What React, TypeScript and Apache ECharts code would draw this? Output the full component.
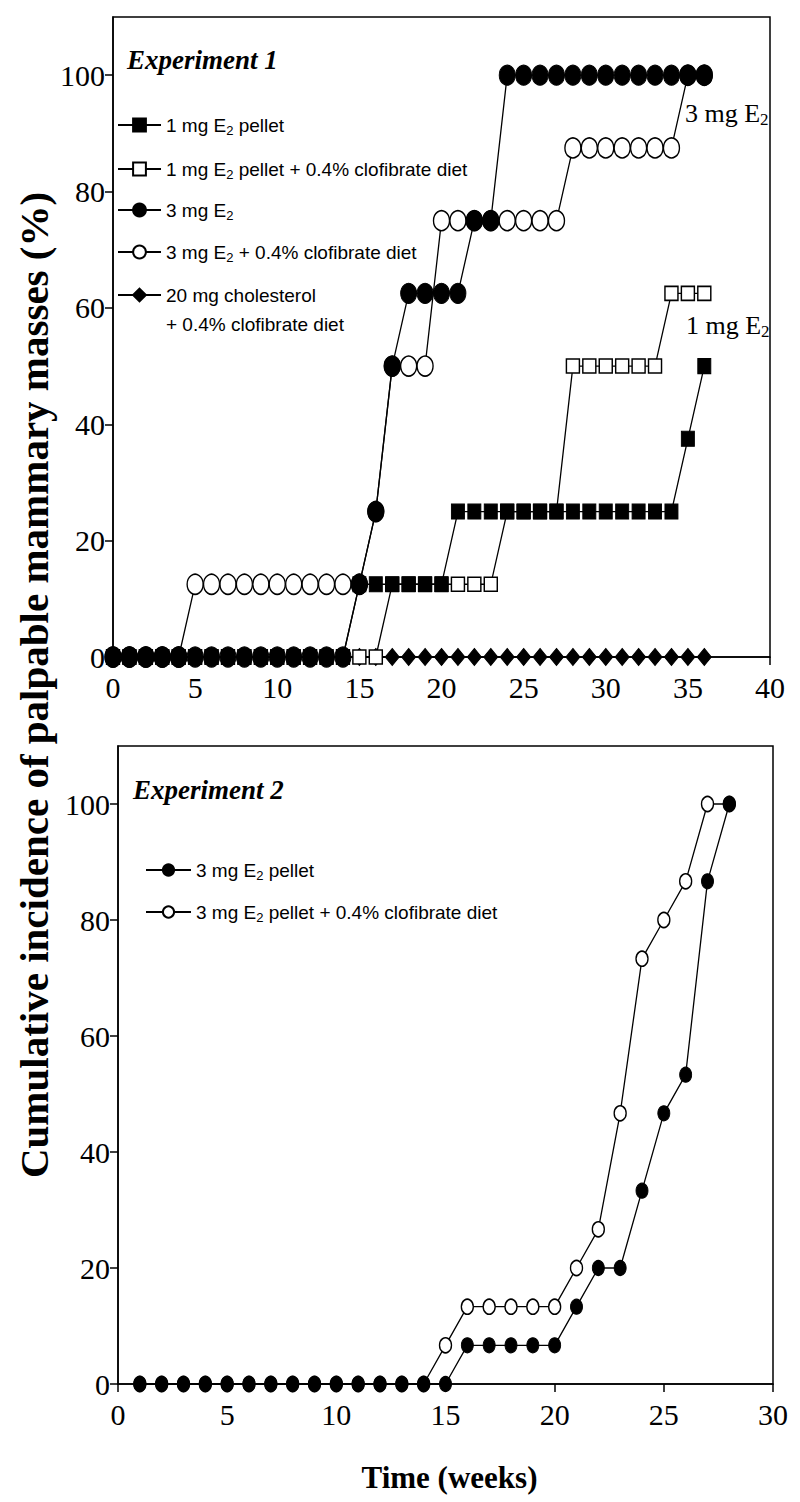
import React, { useEffect, useRef } from 'react';
import * as echarts from 'echarts';

// ---------- Experiment 1 data (weeks 0..36, % incidence) ----------
const exp1Weeks = [0, 1, 2, 3, 4, 5, 6, 7, 8, 9, 10, 11, 12, 13, 14, 15, 16, 17, 18, 19, 20, 21, 22, 23, 24, 25, 26, 27, 28, 29, 30, 31, 32, 33, 34, 35, 36];
const exp1OneMg = [0, 0, 0, 0, 0, 0, 0, 0, 0, 0, 0, 0, 0, 0, 0, 12.5, 12.5, 12.5, 12.5, 12.5, 12.5, 25, 25, 25, 25, 25, 25, 25, 25, 25, 25, 25, 25, 25, 25, 37.5, 50];
const exp1OneMgClof = [0, 0, 0, 0, 0, 0, 0, 0, 0, 0, 0, 0, 0, 0, 0, 0, 0, 12.5, 12.5, 12.5, 12.5, 12.5, 12.5, 12.5, 25, 25, 25, 25, 50, 50, 50, 50, 50, 50, 62.5, 62.5, 62.5];
const exp1ThreeMg = [0, 0, 0, 0, 0, 0, 0, 0, 0, 0, 0, 0, 0, 0, 0, 12.5, 25, 50, 62.5, 62.5, 62.5, 62.5, 75, 75, 100, 100, 100, 100, 100, 100, 100, 100, 100, 100, 100, 100, 100];
const exp1ThreeMgClof = [0, 0, 0, 0, 0, 12.5, 12.5, 12.5, 12.5, 12.5, 12.5, 12.5, 12.5, 12.5, 12.5, 12.5, 25, 50, 50, 50, 75, 75, 75, 75, 75, 75, 75, 75, 87.5, 87.5, 87.5, 87.5, 87.5, 87.5, 87.5, 100, 100];
const exp1Cholesterol = [0, 0, 0, 0, 0, 0, 0, 0, 0, 0, 0, 0, 0, 0, 0, 0, 0, 0, 0, 0, 0, 0, 0, 0, 0, 0, 0, 0, 0, 0, 0, 0, 0, 0, 0, 0, 0];

// ---------- Experiment 2 data (weeks 1..28) ----------
const exp2Weeks = [1, 2, 3, 4, 5, 6, 7, 8, 9, 10, 11, 12, 13, 14, 15, 16, 17, 18, 19, 20, 21, 22, 23, 24, 25, 26, 27, 28];
const exp2ThreeMg = [0, 0, 0, 0, 0, 0, 0, 0, 0, 0, 0, 0, 0, 0, 0, 6.67, 6.67, 6.67, 6.67, 6.67, 13.33, 20, 20, 33.33, 46.67, 53.33, 86.67, 100];
const exp2ThreeMgClof = [0, 0, 0, 0, 0, 0, 0, 0, 0, 0, 0, 0, 0, 0, 6.67, 13.33, 13.33, 13.33, 13.33, 13.33, 20, 26.67, 46.67, 73.33, 80, 86.67, 100, 100];

const yTicks = [0, 20, 40, 60, 80, 100];

const exp1Names = [
  '1 mg E2 pellet',
  '1 mg E2 pellet + 0.4% clofibrate diet',
  '3 mg E2',
  '3 mg E2 + 0.4% clofibrate diet',
  '20 mg cholesterol + 0.4% clofibrate diet',
];
const exp2Names = ['3 mg E2 pellet', '3 mg E2 pellet + 0.4% clofibrate diet'];
const titles = ['Experiment 1', 'Experiment 2'];
const annotations = ['3 mg E2', '1 mg E2'];
const yTitle = 'Cumulative incidence of palpable mammary masses (%)';
const xTitle = 'Time (weeks)';

const SERIF = '"Liberation Serif", "Times New Roman", serif';
const SANS = '"Liberation Sans", Arial, sans-serif';

const richName = (n: string) => '{n|' + n.replace('E2', 'E}{s|2}{n|') + '}';

const pairs = (xs: number[], ys: number[]) => xs.map((x, i) => [x, ys[i]]);

const FILLED = { color: '#000', borderColor: '#000', borderWidth: 1 };
const OPEN = { color: '#fff', borderColor: '#000', borderWidth: 1.5 };

function lineSeries(name: string, xs: number[], ys: number[], idx: number, symbol: string, size: number[], style: any, z: number) {
  return {
    type: 'line',
    name,
    xAxisIndex: idx,
    yAxisIndex: idx,
    data: pairs(xs, ys),
    symbol,
    symbolSize: size,
    showSymbol: true,
    showAllSymbol: true,
    itemStyle: style,
    lineStyle: { color: '#000', width: 1.3 },
    z,
    clip: false,
    silent: true,
    emphasis: { disabled: true },
  };
}

const richStyle = {
  n: { fontFamily: SANS, fontSize: 19, color: '#000' },
  s: { fontFamily: SANS, fontSize: 13, color: '#000', padding: [10, 0, 0, 0] },
};

function legendFor(name: string, left: number, centerY: number, itemWidth: number, itemHeight: number) {
  return {
    orient: 'vertical',
    selectedMode: false,
    padding: 0,
    itemGap: 0,
    itemWidth,
    itemHeight,
    left,
    top: centerY - 12.5,
    data: [name],
    formatter: (n: string) => richName(n),
    textStyle: { fontFamily: SANS, fontSize: 19, color: '#000', rich: richStyle },
  };
}

function axisX(grid: number, max: number, extra: any = {}) {
  return {
    gridIndex: grid,
    type: 'value',
    min: 0,
    max,
    interval: 5,
    axisLine: { show: true, onZero: false, lineStyle: { color: '#000', width: 1.5 } },
    axisTick: { show: true, inside: false, length: 8, lineStyle: { color: '#000', width: 1.5 } },
    axisLabel: { margin: 15, fontFamily: SERIF, fontSize: 30, color: '#000', hideOverlap: false, showMinLabel: true, showMaxLabel: true },
    splitLine: { show: false },
    ...extra,
  };
}

function axisY(grid: number) {
  return {
    gridIndex: grid,
    type: 'value',
    min: 0,
    max: 110,
    interval: 20,
    axisLine: { show: true, onZero: false, lineStyle: { color: '#000', width: 1.5 } },
    axisTick: { show: true, inside: false, length: 8, customValues: yTicks, lineStyle: { color: '#000', width: 1.5 } },
    axisLabel: { margin: 8, customValues: yTicks, fontFamily: SERIF, fontSize: 30, color: '#000' },
    splitLine: { show: false },
  };
}

export default function App() {
  const ref = useRef<HTMLDivElement>(null);
  useEffect(() => {
    if (!ref.current) return;
    const chart = echarts.init(ref.current, null, { renderer: 'svg' });
    const annRich = {
      a: { fontFamily: SERIF, fontSize: 26, fill: '#000' },
      b: { fontFamily: SERIF, fontSize: 17, fill: '#000', padding: [12, 0, 0, 0] },
    };
    const annText = (t: string) => '{a|' + t.replace('E2', 'E}{b|2}');
    chart.setOption({
      animation: false,
      backgroundColor: '#fff',
      grid: [
        { left: 113, top: 17, width: 657, height: 640, show: true, borderColor: '#000', borderWidth: 1.5, backgroundColor: 'transparent' },
        { left: 118, top: 746, width: 655, height: 638, show: true, borderColor: '#000', borderWidth: 1.5, backgroundColor: 'transparent' },
      ],
      xAxis: [
        axisX(0, 40),
        axisX(1, 30, {
          name: xTitle,
          nameLocation: 'middle',
          nameGap: 78,
          nameTextStyle: { fontFamily: SERIF, fontWeight: 'bold', fontSize: 31, color: '#000', padding: [0, 0, 0, 8] },
        }),
      ],
      yAxis: [axisY(0), axisY(1)],
      legend: [
        legendFor(exp1Names[0], 117, 128, 43, 16),
        legendFor(exp1Names[1], 117, 172, 43, 16),
        legendFor(exp1Names[2], 117, 213, 43, 16),
        legendFor(exp1Names[3], 117, 255, 43, 16),
        {
          orient: 'vertical',
          selectedMode: false,
          padding: 0,
          itemWidth: 43,
          itemHeight: 16,
          left: 117,
          top: 295 - 43.5,
          data: [exp1Names[4]],
          formatter: (n: string) => '\n' + n.replace(' + ', '\n+ '),
          textStyle: { fontFamily: SANS, fontSize: 19, lineHeight: 29, color: '#000' },
        },
        legendFor(exp2Names[0], 145, 873, 45, 14),
        legendFor(exp2Names[1], 145, 915, 45, 14),
      ],
      graphic: [
        { type: 'text', x: 127, y: 60, silent: true, style: { text: titles[0], font: 'italic bold 27px ' + SERIF, fill: '#000', verticalAlign: 'middle' } },
        { type: 'text', x: 133, y: 790, silent: true, style: { text: titles[1], font: 'italic bold 27px ' + SERIF, fill: '#000', verticalAlign: 'middle' } },
        { type: 'text', x: 685, y: 113, silent: true, style: { text: annText(annotations[0]), rich: annRich, verticalAlign: 'middle' } },
        { type: 'text', x: 686, y: 325, silent: true, style: { text: annText(annotations[1]), rich: annRich, verticalAlign: 'middle' } },
        { type: 'text', x: 34, y: 685, rotation: Math.PI / 2, silent: true, style: { text: yTitle, font: 'bold 41px ' + SERIF, fill: '#000', align: 'center', verticalAlign: 'middle' } },
      ],
      series: [
        lineSeries(exp1Names[4], exp1Weeks, exp1Cholesterol, 0, 'diamond', [14, 17], FILLED, 2),
        lineSeries(exp1Names[3], exp1Weeks, exp1ThreeMgClof, 0, 'circle', [16, 20], OPEN, 3),
        lineSeries(exp1Names[1], exp1Weeks, exp1OneMgClof, 0, 'rect', [13, 14], OPEN, 4),
        lineSeries(exp1Names[0], exp1Weeks, exp1OneMg, 0, 'rect', [13, 15], FILLED, 5),
        lineSeries(exp1Names[2], exp1Weeks, exp1ThreeMg, 0, 'circle', [16, 20], FILLED, 6),
        lineSeries(exp2Names[1], exp2Weeks, exp2ThreeMgClof, 1, 'circle', [12, 15], OPEN, 3),
        lineSeries(exp2Names[0], exp2Weeks, exp2ThreeMg, 1, 'circle', [12, 15], FILLED, 4),
      ],
    });
    return () => chart.dispose();
  }, []);
  return <div ref={ref} style={{ position: 'absolute', left: 0, top: 0, width: 800, height: 1502, background: '#fff' }} />;
}
